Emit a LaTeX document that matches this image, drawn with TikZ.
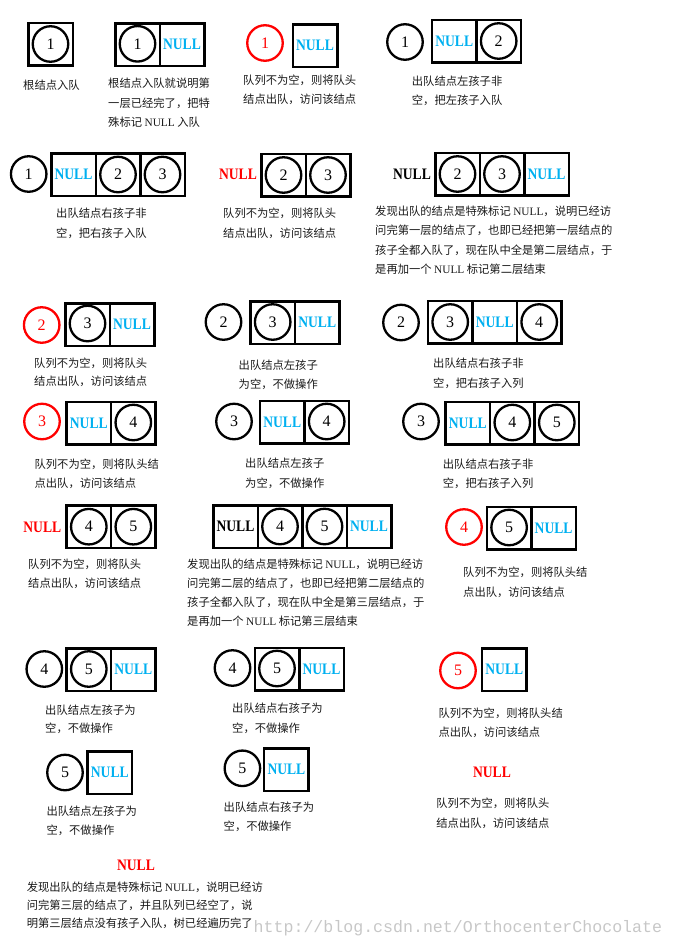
\documentclass[tikz,border=0pt]{standalone}
\usepackage{fontspec}
\setmainfont{Liberation Serif}
\newfontfamily\cjkfont{Noto Sans CJK SC}
\newfontfamily\nullfnt[FakeStretch=0.85]{Liberation Serif}
\newfontfamily\wmfont{Liberation Mono}
\definecolor{nullblue}{RGB}{0,176,240}
\definecolor{nullred}{RGB}{255,0,0}
\tikzset{
  cellbox/.style={draw, line width=2.5pt, minimum width=44.5pt, minimum height=42.5pt, inner sep=0pt, outer sep=0pt},
  qnode/.style={draw, circle, line width=2.3pt, minimum size=35.5pt, inner sep=0pt, font=\rmfamily\fontsize{16}{16}\selectfont},
  rqnode/.style={qnode, draw=nullred, text=nullred},
  nb/.style={font=\nullfnt\bfseries\fontsize{16}{16}\selectfont, text=nullblue},
  nr/.style={font=\nullfnt\bfseries\fontsize{16}{16}\selectfont, text=nullred, inner sep=0pt},
  nk/.style={font=\nullfnt\bfseries\fontsize{16}{16}\selectfont, text=black, inner sep=0pt},
  txt/.style={anchor=base west, inner sep=0pt, yshift=-4.3pt, font=\cjkfont\fontsize{11.3}{13}\selectfont, text=black!90},
  wm/.style={anchor=base west, inner sep=0pt, font=\wmfont\fontsize{16.6}{17}\selectfont, text=black!22},
}
\begin{document}
\begin{tikzpicture}[x=1pt,y=-1pt]
\useasboundingbox (0,0) rectangle (675,946);

% ---------- Row 1 ----------
% A
\node[cellbox] (aC1) at (50.5,44.3) {};
\node[qnode] (aN1) at (50.5,44) {1};
\node[txt] (aT1) at (23,85) {根结点入队};
% B
\node[cellbox] (bC1) at (137.5,44.5) {};
\node[cellbox, nb] (bC2) at (182,44.5) {NULL};
\node[qnode] (bN1) at (137.5,43.8) {1};
\node[txt] (bT1) at (108,83.3) {根结点入队就说明第};
\node[txt] (bT2) at (108,102.7) {一层已经完了，把特};
\node[txt] (bT3) at (108,121.7) {殊标记 {\rmfamily NULL} 入队};
% C
\node[rqnode] (cN1) at (265,43) {1};
\node[cellbox, nb] (cC1) at (315,45.5) {NULL};
\node[txt] (cT1) at (243,80) {队列不为空，则将队头};
\node[txt] (cT2) at (243,99.3) {结点出队，访问该结点};
% D
\node[qnode] (dN1) at (405,42) {1};
\node[cellbox, nb] (dC1) at (454.2,41) {NULL};
\node[cellbox] (dC2) at (498.7,41) {};
\node[qnode] (dN2) at (498.7,41) {2};
\node[txt] (dT1) at (411.7,80.7) {出队结点左孩子非};
\node[txt] (dT2) at (411.7,100) {空，把左孩子入队};

% ---------- Row 2 ----------
% E
\node[qnode] (eN1) at (28.7,174) {1};
\node[cellbox, nb] (eC1) at (73.5,174.5) {NULL};
\node[cellbox] (eC2) at (118,174.5) {};
\node[cellbox] (eC3) at (162.5,174.5) {};
\node[qnode] (eN2) at (118,174.5) {2};
\node[qnode] (eN3) at (162.5,174.5) {3};
\node[txt] (eT1) at (56,213) {出队结点右孩子非};
\node[txt] (eT2) at (56,233) {空，把右孩子入队};
% F
\node[nr] (fL) at (238,174) {NULL};
\node[cellbox] (fC1) at (283.5,175) {};
\node[cellbox] (fC2) at (328,175) {};
\node[qnode] (fN2) at (283.5,175) {2};
\node[qnode] (fN3) at (328,175) {3};
\node[txt] (fT1) at (223,213) {队列不为空，则将队头};
\node[txt] (fT2) at (223,233) {结点出队，访问该结点};
% G
\node[nk] (gL) at (412,174) {NULL};
\node[cellbox] (gC1) at (457.5,174) {};
\node[cellbox] (gC2) at (502,174) {};
\node[cellbox, nb] (gC3) at (546.5,174) {NULL};
\node[qnode] (gN2) at (457.5,174) {2};
\node[qnode] (gN3) at (502,174) {3};
\node[txt] (gT1) at (375,211) {发现出队的结点是特殊标记 {\rmfamily NULL}，说明已经访};
\node[txt] (gT2) at (375,230) {问完第一层的结点了，也即已经把第一层结点的};
\node[txt] (gT3) at (375,250) {孩子全都入队了，现在队中全是第二层结点，于};
\node[txt] (gT4) at (375,269) {是再加一个 {\rmfamily NULL} 标记第二层结束};

% ---------- Row 3 ----------
% H
\node[rqnode] (hN1) at (41.7,325) {2};
\node[cellbox] (hC1) at (87.5,324.5) {};
\node[cellbox, nb] (hC2) at (132,324.5) {NULL};
\node[qnode] (hN2) at (87.5,323.5) {3};
\node[txt] (hT1) at (34,363) {队列不为空，则将队头};
\node[txt] (hT2) at (34,381) {结点出队，访问该结点};
% I
\node[qnode] (iN1) at (223.5,322) {2};
\node[cellbox] (iC1) at (272.7,322.5) {};
\node[cellbox, nb] (iC2) at (317.2,322.5) {NULL};
\node[qnode] (iN2) at (272.7,322) {3};
\node[txt] (iT1) at (238.5,365) {出队结点左孩子};
\node[txt] (iT2) at (238.5,384) {为空，不做操作};
% J
\node[qnode] (jN1) at (401,322.5) {2};
\node[cellbox] (jC1) at (450.2,322) {};
\node[cellbox, nb] (jC2) at (494.7,322) {NULL};
\node[cellbox] (jC3) at (539.2,322) {};
\node[qnode] (jN2) at (450.2,322) {3};
\node[qnode] (jN3) at (539.2,322) {4};
\node[txt] (jT1) at (433,363) {出队结点右孩子非};
\node[txt] (jT2) at (433,383) {空，把右孩子入列};

% ---------- Row 4 ----------
% K
\node[rqnode] (kN1) at (42,421.5) {3};
\node[cellbox, nb] (kC1) at (88.8,423) {NULL};
\node[cellbox] (kC2) at (133.3,423) {};
\node[qnode] (kN2) at (133.3,422.5) {4};
\node[txt] (kT1) at (34.4,464) {队列不为空，则将队头结};
\node[txt] (kT2) at (34.4,483) {点出队，访问该结点};
% L
\node[qnode] (lN1) at (234,421.5) {3};
\node[cellbox, nb] (lC1) at (282.2,422) {NULL};
\node[cellbox] (lC2) at (326.7,422) {};
\node[qnode] (lN2) at (326.7,421.5) {4};
\node[txt] (lT1) at (245,463) {出队结点左孩子};
\node[txt] (lT2) at (245,483) {为空，不做操作};
% M
\node[qnode] (mN1) at (421,421.5) {3};
\node[cellbox, nb] (mC1) at (467.8,423) {NULL};
\node[cellbox] (mC2) at (512.3,423) {};
\node[cellbox] (mC3) at (556.8,423) {};
\node[qnode] (mN2) at (512.3,422.5) {4};
\node[qnode] (mN3) at (556.8,422.5) {5};
\node[txt] (mT1) at (442.7,464) {出队结点右孩子非};
\node[txt] (mT2) at (442.7,483) {空，把右孩子入列};

% ---------- Row 5 ----------
% N
\node[nr] (nL) at (42.3,527.7) {NULL};
\node[cellbox] (nC1) at (88.8,526.7) {};
\node[cellbox] (nC2) at (133.3,526.7) {};
\node[qnode] (nN1) at (88.8,526.7) {4};
\node[qnode] (nN2) at (133.3,526.7) {5};
\node[txt] (nT1) at (28,564.3) {队列不为空，则将队头};
\node[txt] (nT2) at (28,582.7) {结点出队，访问该结点};
% O
\node[cellbox, nb, text=black] (oC1) at (235.5,526.5) {NULL};
\node[cellbox] (oC2) at (280,526.5) {};
\node[cellbox] (oC3) at (324.5,526.5) {};
\node[cellbox, nb] (oC4) at (369,526.5) {NULL};
\node[qnode] (oN1) at (280,526.5) {4};
\node[qnode] (oN2) at (324.5,526.5) {5};
\node[txt] (oT1) at (187,564) {发现出队的结点是特殊标记 {\rmfamily NULL}，说明已经访};
\node[txt] (oT2) at (187,583) {问完第二层的结点了，也即已经把第二层结点的};
\node[txt] (oT3) at (187,602) {孩子全都入队了，现在队中全是第三层结点，于};
\node[txt] (oT4) at (187,621) {是再加一个 {\rmfamily NULL} 标记第三层结束};
% P
\node[rqnode] (pN1) at (464,527) {4};
\node[cellbox] (pC1) at (509.1,528) {};
\node[cellbox, nb] (pC2) at (553.6,528) {NULL};
\node[qnode] (pN2) at (509.1,527.5) {5};
\node[txt] (pT1) at (463,572.3) {队列不为空，则将队头结};
\node[txt] (pT2) at (463,591.7) {点出队，访问该结点};

% ---------- Row 6 ----------
% Q
\node[qnode] (qN1) at (44.3,669) {4};
\node[cellbox] (qC1) at (88.8,669.8) {};
\node[cellbox, nb] (qC2) at (133.3,669.8) {NULL};
\node[qnode] (qN2) at (88.8,669) {5};
\node[txt] (qT1) at (45,710) {出队结点左孩子为};
\node[txt] (qT2) at (45,728.3) {空，不做操作};
% R
\node[qnode] (rN1) at (232.5,668) {4};
\node[cellbox] (rC1) at (277,669) {};
\node[cellbox, nb] (rC2) at (321.5,669) {NULL};
\node[qnode] (rN2) at (277,668.5) {5};
\node[txt] (rT1) at (232,708.3) {出队结点右孩子为};
\node[txt] (rT2) at (232,728.3) {空，不做操作};
% S
\node[rqnode] (sN1) at (458,670.5) {5};
\node[cellbox, nb] (sC1) at (504.3,669.8) {NULL};
\node[txt] (sT1) at (438.3,712.7) {队列不为空，则将队头结};
\node[txt] (sT2) at (438.3,731.7) {点出队，访问该结点};

% ---------- Row 7 ----------
% T
\node[qnode] (tN1) at (65,772.5) {5};
\node[cellbox, nb] (tC1) at (109.8,772.8) {NULL};
\node[txt] (tT1) at (46.4,810.7) {出队结点左孩子为};
\node[txt] (tT2) at (46.4,830) {空，不做操作};
% U
\node[qnode] (uN1) at (242.4,768.3) {5};
\node[cellbox, nb] (uC1) at (286.4,769.5) {NULL};
\node[txt] (uT1) at (223.5,806.7) {出队结点右孩子为};
\node[txt] (uT2) at (223.5,826) {空，不做操作};
% V
\node[nr] (vL) at (492,772.7) {NULL};
\node[txt] (vT1) at (436.2,803.3) {队列不为空，则将队头};
\node[txt] (vT2) at (436.2,822.7) {结点出队，访问该结点};

% ---------- Row 8 ----------
\node[nr] (wL) at (136,865) {NULL};
\node[txt] (wT1) at (26.6,886.7) {发现出队的结点是特殊标记 {\rmfamily NULL}，说明已经访};
\node[txt] (wT2) at (26.6,905.5) {问完第三层的结点了，并且队列已经空了，说};
\node[txt] (wT3) at (26.6,923.5) {明第三层结点没有孩子入队，树已经遍历完了};
\node[wm] (wmark) at (253.5,932) {http://blog.csdn.net/OrthocenterChocolate};
\end{tikzpicture}
\end{document}
